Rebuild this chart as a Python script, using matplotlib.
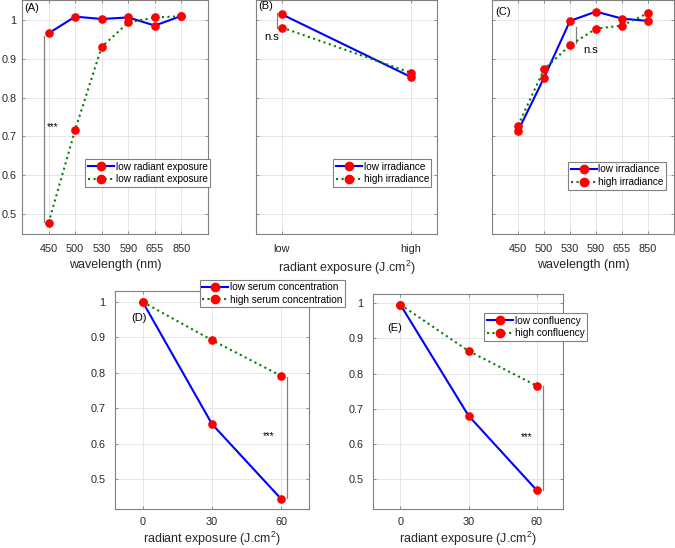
import matplotlib
matplotlib.use("Agg")
import matplotlib.pyplot as plt

plt.rcParams['font.family'] = ['Liberation Sans', 'DejaVu Sans']
plt.rcParams['mathtext.fontset'] = 'custom'
plt.rcParams['mathtext.rm'] = 'Liberation Sans'
plt.rcParams['mathtext.it'] = 'Liberation Sans:italic'

# ---- data ----
wl_labels = ['450', '500', '530', '590', '655', '850']
a_low = [0.966, 1.009, 1.003, 1.007, 0.986, 1.011]
a_high = [0.477, 0.717, 0.931, 0.994, 1.007, 1.010]
a_names = ['low radiant exposure', 'low radiant exposure']

b_labels = ['low', 'high']
b_low = [1.015, 0.853]
b_high = [0.981, 0.864]
b_names = ['low irradiance', 'high irradiance']

c_low = [0.714, 0.851, 0.998, 1.022, 1.004, 0.998]
c_high = [0.728, 0.873, 0.935, 0.978, 0.986, 1.018]
c_names = ['low irradiance', 'high irradiance']

dose = [0, 30, 60]
d_low = [1.0, 0.655, 0.443]
d_high = [1.0, 0.892, 0.791]
d_names = ['low serum concentration', 'high serum concentration']

e_low = [0.996, 0.680, 0.468]
e_high = [0.996, 0.864, 0.765]
e_names = ['low confluency', 'high confluency']

yticks = [0.5, 0.6, 0.7, 0.8, 0.9, 1.0]
yticklabels = ['0.5', '0.6', '0.7', '0.8', '0.9', '1']

BLUE = '#0000ff'
GREEN = '#008000'
RED = '#ff0000'
FRAME = '#808080'
TICKFS = 7.8
LABFS = 9
LEGFS = 7.2

fig = plt.figure(figsize=(6.75, 5.48), dpi=100)


def style(ax, show_ylabels=True, ypad=7, xpad=7):
    ax.grid(True, color='#e6e6e6', linewidth=0.7)
    ax.set_axisbelow(True)
    for s in ax.spines.values():
        s.set_color(FRAME)
        s.set_linewidth(0.8)
    ax.tick_params(direction='in', length=2.5, width=0.6, color=FRAME,
                   labelsize=TICKFS, labelcolor='#262626',
                   top=True, right=True)
    ax.tick_params(axis='x', pad=xpad)
    ax.tick_params(axis='y', pad=ypad)
    ax.set_yticks(yticks)
    if show_ylabels:
        ax.set_yticklabels(yticklabels)
    else:
        ax.set_yticklabels([])


def plot_pair(ax, x, low, high, names):
    l1, = ax.plot(x, low, '-', color=BLUE, lw=1.5, marker='o', ms=5.2,
                  mfc=RED, mec=RED, label=names[0], zorder=3)
    l2, = ax.plot(x, high, ':', color=GREEN, lw=1.5, marker='o', ms=5.2,
                  mfc=RED, mec=RED, label=names[1], zorder=3)
    return l1, l2


def legend(ax, loc, bbox):
    lg = ax.legend(loc=loc, bbox_to_anchor=bbox, fontsize=LEGFS, frameon=True,
                   fancybox=False, edgecolor=FRAME, framealpha=1,
                   handlelength=2.6, handletextpad=0.2, borderpad=0.25,
                   labelspacing=0.25, borderaxespad=0, markerscale=1.15)
    lg.get_frame().set_linewidth(0.8)
    return lg


# ---- Panel A ----
axA = fig.add_axes([22/675, 1-234/548, 186/675, 234/548])
xA = list(range(1, len(wl_labels)+1))
plot_pair(axA, xA, a_low, a_high, a_names)
style(axA, ypad=4)
axA.set_xlim(0, 7)
axA.set_ylim(0.448, 1.052)
axA.set_xticks(xA)
axA.set_xticklabels(wl_labels)
axA.set_xlabel('wavelength (nm)', fontsize=LABFS, labelpad=4, color='#262626')
axA.plot([0.82, 0.82], [0.478, 0.96], color='#808080', lw=0.9)
axA.text(0.95, 0.725, '***', fontsize=7, ha='left', va='center')
axA.text(0.08, 1.045, '(A)', fontsize=8, ha='left', va='top')
legend(axA, 'upper left', (63/186, 1-159/234))

# ---- Panel B ----
axB = fig.add_axes([256/675, 1-234/548, 181/675, 234/548])
xB = list(range(1, len(b_labels)+1))
plot_pair(axB, xB, b_low, b_high, b_names)
style(axB, show_ylabels=False)
axB.set_xlim(0.8, 2.2)
axB.set_ylim(0.448, 1.052)
axB.set_xticks(xB)
axB.set_xticklabels(b_labels)
axB.set_xlabel(r'radiant exposure (J.cm$^{2}$)', fontsize=LABFS, labelpad=4,
               color='#262626')
axB.plot([0.96, 0.96], [0.979, 1.018], color='#808080', lw=0.9)
axB.text(0.865, 0.956, 'n.s', fontsize=8, ha='left', va='center')
axB.text(0.815, 1.050, '(B)', fontsize=8, ha='left', va='top')
legend(axB, 'upper left', (77/181, 1-159/234))

# ---- Panel C ----
axC = fig.add_axes([492/675, 1-234/548, 182/675, 234/548])
plot_pair(axC, xA, c_low, c_high, c_names)
style(axC, show_ylabels=False)
axC.set_xlim(0, 7)
axC.set_ylim(0.448, 1.052)
axC.set_xticks(xA)
axC.set_xticklabels(wl_labels)
axC.set_xlabel('wavelength (nm)', fontsize=LABFS, labelpad=4, color='#262626')
axC.plot([3.22, 3.22], [0.94, 0.982], color='#808080', lw=0.9)
axC.text(3.5, 0.922, 'n.s', fontsize=8, ha='left', va='center')
axC.text(0.12, 1.035, '(C)', fontsize=8, ha='left', va='top')
legend(axC, 'upper left', (76/182, 1-162/234))

# ---- Panel D ----
axD = fig.add_axes([115/675, 1-509/548, 194/675, 218/548])
plot_pair(axD, dose, d_low, d_high, d_names)
style(axD, xpad=6)
axD.set_xlim(-12, 72)
axD.set_ylim(0.415, 1.031)
axD.set_xticks(dose)
axD.set_xlabel(r'radiant exposure (J.cm$^{2}$)', fontsize=LABFS, labelpad=1.5,
               color='#262626')
axD.plot([62.5, 62.5], [0.445, 0.789], color='#808080', lw=0.9)
axD.text(57, 0.62, '***', fontsize=7, ha='right', va='center')
axD.text(-1.5, 0.955, '(D)', fontsize=8, ha='center', va='center')
legend(axD, 'upper left', (85/194, 1+11/218))

# ---- Panel E ----
axE = fig.add_axes([373/675, 1-509/548, 190/675, 215/548])
plot_pair(axE, dose, e_low, e_high, e_names)
style(axE, xpad=6)
axE.set_xlim(-12, 71.5)
axE.set_ylim(0.415, 1.026)
axE.set_xticks(dose)
axE.set_xlabel(r'radiant exposure (J.cm$^{2}$)', fontsize=LABFS, labelpad=1.5,
               color='#262626')
axE.plot([62.5, 62.5], [0.47, 0.765], color='#808080', lw=0.9)
axE.text(58, 0.62, '***', fontsize=7, ha='right', va='center')
axE.text(-2.5, 0.928, '(E)', fontsize=8, ha='center', va='center')
legend(axE, 'upper left', (111/190, 1-19/215))

fig.savefig('out.png', dpi=100)
